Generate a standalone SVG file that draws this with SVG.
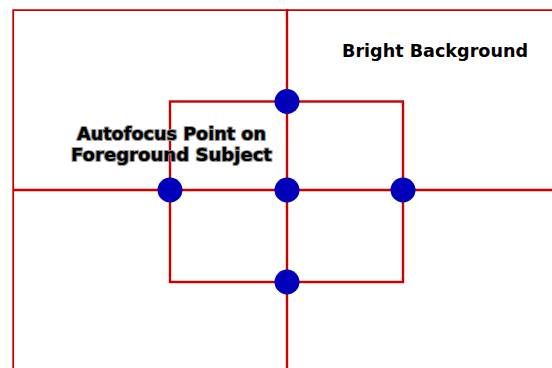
<svg xmlns="http://www.w3.org/2000/svg" width="552" height="368" viewBox="0 0 552 368">
<style>
.ln{stroke:#CC0000;fill:none}
.pt{fill:#0000BB}
.lbl{font-family:"DejaVu Sans","Liberation Sans",sans-serif;font-weight:bold;font-size:18px;fill:#000}
.halo{stroke:#9a9a9a;stroke-width:2.2;paint-order:stroke;stroke-linejoin:round}
</style>
<rect width="552" height="368" fill="#fff"/>
<g id="connectors">
<path class="ln" stroke-width="1.8" d="M13.2 368V10.2H552"/>
<rect class="ln" stroke-width="2.4" x="170" y="101.5" width="233" height="180.5"/>
<path class="ln" stroke-width="2.4" d="M287 9V368M13 190H552"/>
</g>
<g id="pt-top"><circle class="pt" cx="287" cy="101.5" r="12.5"/></g>
<g id="pt-left"><circle class="pt" cx="170" cy="190" r="12.5"/></g>
<g id="pt-center"><circle class="pt" cx="287" cy="190" r="12.5"/></g>
<g id="pt-right"><circle class="pt" cx="403" cy="190" r="12.5"/></g>
<g id="pt-bottom"><circle class="pt" cx="287" cy="282" r="12.5"/></g>
<g id="label-bright"><text class="lbl" x="342" y="56.5" textLength="186" lengthAdjust="spacingAndGlyphs">Bright Background</text></g>
<g id="label-autofocus">
<text class="lbl halo" x="77" y="140" textLength="189" lengthAdjust="spacingAndGlyphs">Autofocus Point on</text>
<text class="lbl halo" x="71" y="161" textLength="201" lengthAdjust="spacingAndGlyphs">Foreground Subject</text>
</g>
</svg>
